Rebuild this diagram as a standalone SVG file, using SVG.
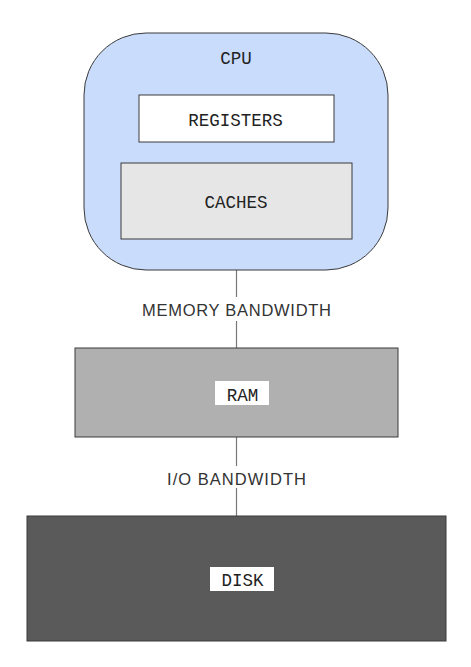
<svg xmlns="http://www.w3.org/2000/svg" width="471" height="667" viewBox="0 0 471 667">
<style>
.box{stroke:#3a3a3a;stroke-width:1}
.mono{font-family:"Liberation Mono","DejaVu Sans Mono",monospace;font-size:17.5px;fill:#222;text-anchor:middle}
.lbl{font-family:"Liberation Sans","Open Sans",sans-serif;font-size:16.5px;fill:#333;text-anchor:middle}
.conn{stroke:#777;stroke-width:1.2;fill:none}
</style>
<rect width="471" height="667" fill="#ffffff"/>
<g id="connectors">
<line class="conn" x1="236.5" y1="270" x2="236.5" y2="348"/>
<line class="conn" x1="236.5" y1="437" x2="236.5" y2="516"/>
<rect x="138" y="297" width="197" height="24" fill="#ffffff"/>
<text class="lbl" x="236.5" y="315.5" textLength="189" lengthAdjust="spacing">MEMORY BANDWIDTH</text>
<rect x="163" y="466" width="147" height="22" fill="#ffffff"/>
<text class="lbl" x="236.5" y="484.5" textLength="139" lengthAdjust="spacing">I/O BANDWIDTH</text>
</g>
<g id="cpu">
<rect class="box" x="84" y="33" width="304" height="237" rx="62" ry="62" fill="#c9dcfc"/>
<text class="mono" x="236" y="64">CPU</text>
</g>
<g id="registers">
<rect class="box" x="139" y="95" width="195" height="47" fill="#ffffff"/>
<text class="mono" x="235.5" y="126">REGISTERS</text>
</g>
<g id="caches">
<rect class="box" x="121" y="163" width="231" height="76" fill="#e6e6e6"/>
<text class="mono" x="236" y="208">CACHES</text>
</g>
<g id="ram">
<rect class="box" x="75" y="348" width="323" height="89" fill="#b0b0b0"/>
<rect x="215" y="381" width="54" height="24" fill="#ffffff"/>
<text class="mono" x="242.5" y="401">RAM</text>
</g>
<g id="disk">
<rect class="box" x="27" y="516" width="419" height="125" fill="#5a5a5a"/>
<rect x="210" y="567" width="64" height="24" fill="#ffffff"/>
<text class="mono" x="242.5" y="586">DISK</text>
</g>
</svg>
